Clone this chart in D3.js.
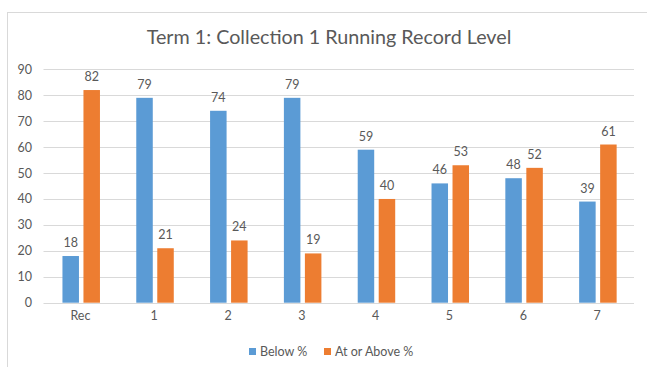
<!DOCTYPE html>
<html><head><meta charset="utf-8">
<script src="https://cdn.jsdelivr.net/npm/d3@7"></script>
<style>html,body{margin:0;padding:0;background:#fff;overflow:hidden}</style>
</head><body>
<script>
const title = "Term 1: Collection 1 Running Record Level";
const categories = ["Rec","1","2","3","4","5","6","7"];
const seriesNames = ["Below %","At or Above %"];
const below = [18,79,74,79,59,46,48,39];
const atOrAbove = [82,21,24,19,40,53,52,61];
const yTicks = [0,10,20,30,40,50,60,70,80,90];
const colors = ["#5B9BD5","#ED7D31"];

const W=647,H=367;
const FONT="Lato, 'Open Sans', sans-serif";
const TXT="#595959";
const svg=d3.select("body").append("svg").attr("width",W).attr("height",H);

svg.append("rect").attr("x",7.5).attr("y",12.5).attr("width",700).attr("height",400)
  .attr("fill","none").attr("stroke","#d9d9d9");

const x=d3.scaleBand().domain(categories).range([43.5,634]).padding(0);
const y=d3.scaleLinear().domain([0,90]).range([302.7,69.3]);

// gridlines
svg.append("g").selectAll("line").data(yTicks).join("line")
  .attr("x1",43.5).attr("x2",634).attr("y1",d=>Math.round(y(d))+0.5).attr("y2",d=>Math.round(y(d))+0.5)
  .attr("stroke","#d9d9d9").attr("stroke-width",1);

// y axis labels
const yAxis=d3.axisLeft(y).tickValues(yTicks).tickSize(0).tickPadding(0);
const gy=svg.append("g").attr("transform","translate(32,0)").call(yAxis);
gy.select(".domain").remove();
gy.selectAll("text").attr("font-family",FONT).attr("font-size",12.5).attr("fill",TXT);

// x axis labels
const xAxis=d3.axisBottom(x).tickSize(0).tickPadding(0);
const gx=svg.append("g").attr("transform","translate(0,311)").call(xAxis);
gx.select(".domain").remove();
gx.selectAll("text").attr("font-family",FONT).attr("font-size",12.5).attr("fill",TXT);

const bw=16.5, gap=4.5;
const data=[below,atOrAbove];
const off=[-gap/2-bw, gap/2];
data.forEach((vals,si)=>{
  const g=svg.append("g");
  g.selectAll("rect").data(vals).join("rect")
    .attr("x",(d,i)=>x(categories[i])+x.bandwidth()/2+off[si]+0.8)
    .attr("width",bw)
    .attr("y",d=>y(d)).attr("height",d=>y(0)-y(d))
    .attr("fill",colors[si]);
  g.selectAll("text").data(vals).join("text")
    .attr("x",(d,i)=>x(categories[i])+x.bandwidth()/2+off[si]+0.8+bw/2)
    .attr("y",d=>y(d)-9)
    .attr("text-anchor","middle")
    .attr("font-family",FONT).attr("font-size",12.5).attr("fill",TXT)
    .text(d=>d);
});

// title
const t=svg.append("text").attr("x",329).attr("y",44).attr("text-anchor","middle")
  .attr("font-family",FONT).attr("font-size",18.5).attr("fill",TXT).text(title);
const tw=t.node().getComputedTextLength();
t.attr("font-size",18.5*365/tw);

// legend
const leg=svg.append("g");
const legX=[249,324];
seriesNames.forEach((n,i)=>{
  leg.append("rect").attr("x",legX[i]).attr("y",348).attr("width",7).attr("height",7).attr("fill",colors[i]);
  leg.append("text").attr("x",legX[i]+11).attr("y",356).attr("font-family",FONT).attr("font-size",12.5)
    .attr("fill",TXT).text(n);
});
</script>
</body></html>
